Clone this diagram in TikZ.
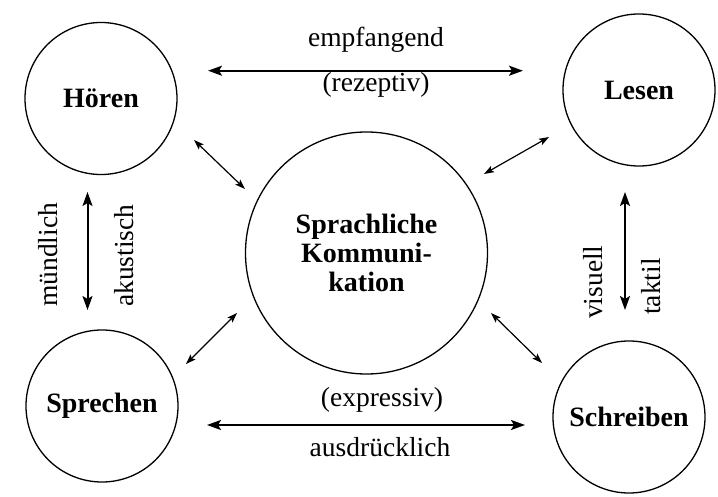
\documentclass[tikz,border=0pt]{standalone}
\usepackage{fontspec}
\setmainfont{Liberation Serif}
\usetikzlibrary{arrows.meta}
\begin{document}
\begin{tikzpicture}[x=1pt,y=-1pt,
  skill/.style={draw, circle, line width=1.3pt, inner sep=0pt, align=center,
    font=\fontsize{28}{29}\selectfont\bfseries},
  lbl/.style={font=\fontsize{27.5}{29}\selectfont, inner sep=0pt},
  bigarrow/.style={line width=2pt,
    {Stealth[length=14pt,width=10pt,inset=3pt]}-{Stealth[length=14pt,width=10pt,inset=3pt]}},
  smallarrow/.style={line width=1.2pt,
    {Stealth[length=10pt,width=7pt,inset=2pt]}-{Stealth[length=10pt,width=7pt,inset=2pt]}}]
\useasboundingbox (0,0) rectangle (718,497);
\fill[white] (0,0) rectangle (718,497);
% circles
\node[skill, minimum size=152pt] (hoeren) at (101,98.5) {Hören};
\node[skill, minimum size=152pt] (lesen) at (639,90) {Lesen};
\node[skill, minimum size=152pt] (sprechen) at (102,406) {Sprechen};
\node[skill, minimum size=152pt] (schreiben) at (629,417) {Schreiben};
\node[skill, minimum size=242pt] (komm) at (366.5,253) {Sprachliche\\Kommuni-\\kation};
% arrow end points
\coordinate (t1) at (208,70.7);  \coordinate (t2) at (523,70.7);
\coordinate (b1) at (207,425);   \coordinate (b2) at (525,425);
\coordinate (l1) at (87.5,192);  \coordinate (l2) at (87.5,310);
\coordinate (r1) at (625,192);   \coordinate (r2) at (625,310);
\coordinate (hc1) at (194,140);  \coordinate (hc2) at (245,189);
\coordinate (lc1) at (549,137);  \coordinate (lc2) at (484,174);
\coordinate (sc1) at (237,313);  \coordinate (sc2) at (186,364);
\coordinate (wc1) at (491,313);  \coordinate (wc2) at (542,363);
% arrows
\draw[bigarrow] (t1) -- (t2);
\draw[bigarrow] (b1) -- (b2);
\draw[bigarrow] (l1) -- (l2);
\draw[bigarrow] (r1) -- (r2);
\draw[smallarrow] (hc1) -- (hc2);
\draw[smallarrow] (lc1) -- (lc2);
\draw[smallarrow] (sc1) -- (sc2);
\draw[smallarrow] (wc1) -- (wc2);
% labels
\node[lbl, anchor=base] (emp) at (376,47) {empfangend};
\node[lbl, anchor=base] (rez) at (376,92) {(rezeptiv)};
\node[lbl, anchor=base] (exp) at (382,406) {(expressiv)};
\node[lbl, anchor=base] (aus) at (380,456) {ausdrücklich};
\node[lbl, rotate=90, anchor=base west] (mue) at (57,307) {mündlich};
\node[lbl, rotate=90, anchor=base west] (aku) at (133,307) {akustisch};
\node[lbl, rotate=90, anchor=base west] (vis) at (602,319) {visuell};
\node[lbl, rotate=90, anchor=base west] (tak) at (660,315) {taktil};
\end{tikzpicture}
\end{document}
